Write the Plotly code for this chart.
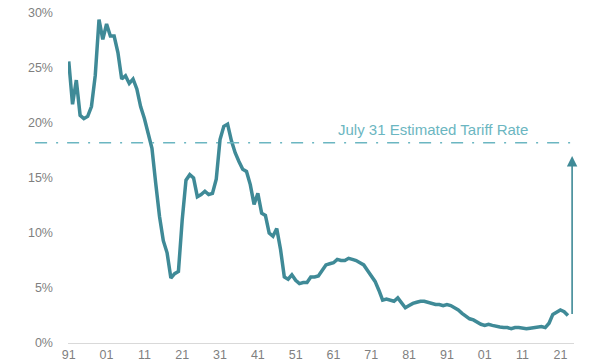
import plotly.graph_objects as go

years = list(range(1891, 2024))
tariff_rate = [
    25.6, 21.7, 23.9, 20.7, 20.4, 20.6, 21.5, 24.3, 29.4, 27.6,
    29.0, 27.9, 27.9, 26.4, 24.0, 24.3, 23.6, 24.0, 23.1, 21.5,
    20.4, 19.0, 17.7, 14.5, 11.5, 9.3, 8.2, 5.9, 6.3, 6.5,
    11.2, 14.8, 15.3, 15.0, 13.3, 13.5, 13.8, 13.5, 13.6, 14.9,
    18.5, 19.7, 19.9, 18.4, 17.3, 16.5, 15.8, 15.6, 14.4, 12.6,
    13.6, 11.8, 11.6, 10.0, 9.7, 10.4, 8.5, 6.0, 5.8, 6.2,
    5.7, 5.4, 5.5, 5.5, 6.0, 6.0, 6.1, 6.6, 7.1, 7.2,
    7.3, 7.6, 7.5, 7.5, 7.7, 7.6, 7.5, 7.3, 7.1, 6.6,
    6.1, 5.6, 4.8, 3.9, 4.0, 3.9, 3.8, 4.1, 3.6, 3.2,
    3.4, 3.6, 3.7, 3.8, 3.8, 3.7, 3.6, 3.5, 3.5, 3.4,
    3.5, 3.4, 3.2, 3.0, 2.7, 2.4, 2.2, 2.1, 1.9, 1.7,
    1.6, 1.7, 1.6, 1.5, 1.45, 1.4, 1.4, 1.3, 1.4, 1.4,
    1.35, 1.3, 1.35, 1.4, 1.5, 1.5, 1.4, 1.8, 2.6, 2.8,
    3.0, 2.85, 2.5,
]
tick_years = [1891, 1901, 1911, 1921, 1931, 1941, 1951, 1961, 1971, 1981,
              1991, 2001, 2011, 2021]
tick_labels = ["91", "01", "11", "21", "31", "41", "51", "61", "71", "81",
               "91", "01", "11", "21"]
y_ticks = [0, 5, 10, 15, 20, 25, 30]
y_labels = ["0%", "5%", "10%", "15%", "20%", "25%", "30%"]

estimated_rate = 18.2
estimate_label = "July 31 Estimated Tariff Rate"
arrow_year = 2024.1
arrow_from = 2.5
arrow_to = 17.0

line_color = "#3f8a97"
light_teal = "#6bb6c1"
gray = "#7f7f7f"

fig = go.Figure()
fig.add_trace(go.Scatter(
    x=years, y=tariff_rate, mode="lines",
    line=dict(color=line_color, width=3.5),
    hoverinfo="skip", showlegend=False,
))

fig.add_shape(
    type="line", xref="paper", yref="y",
    x0=-0.065, x1=0.996, y0=estimated_rate, y1=estimated_rate,
    line=dict(color=light_teal, width=1.5, dash="12px,9px,2px,9px"),
)

fig.add_annotation(
    x=1987.3, y=estimated_rate, xref="x", yref="y",
    text=estimate_label, showarrow=False,
    yanchor="bottom", yshift=3,
    font=dict(family="Arial", size=15, color=light_teal),
)

fig.add_annotation(
    x=arrow_year, y=arrow_to, ax=arrow_year, ay=arrow_from,
    xref="x", yref="y", axref="x", ayref="y",
    text="", showarrow=True, arrowhead=2, arrowsize=1.3,
    arrowwidth=1.6, arrowcolor=line_color, standoff=0, startstandoff=0,
)

fig.update_layout(
    width=596, height=364,
    margin=dict(l=68, r=22, t=13, b=21, autoexpand=False),
    paper_bgcolor="white", plot_bgcolor="white",
    font=dict(family="Arial", size=12.5, color=gray),
    hovermode=False,
    xaxis=dict(
        range=[1890.8, 2024.6], tickmode="array",
        tickvals=tick_years, ticktext=tick_labels,
        showgrid=False, zeroline=False, showline=True,
        linecolor="#d9d9d9", linewidth=1, ticks="",
        automargin=False, tickfont=dict(size=12.5, color=gray),
    ),
    yaxis=dict(
        range=[0, 30], tickmode="array",
        tickvals=y_ticks, ticktext=y_labels,
        showgrid=False, zeroline=False, showline=False, ticks="",
        automargin=False, ticklabelstandoff=14,
        ticklabeloverflow="allow",
        tickfont=dict(size=12.5, color=gray),
    ),
)

# remove the default 8px body margin so the figure fills the window exactly
fig.write_html(
    "out.html",
    config={"displayModeBar": False},
    post_script="document.body.style.margin='0';document.body.style.overflow='hidden';",
)
